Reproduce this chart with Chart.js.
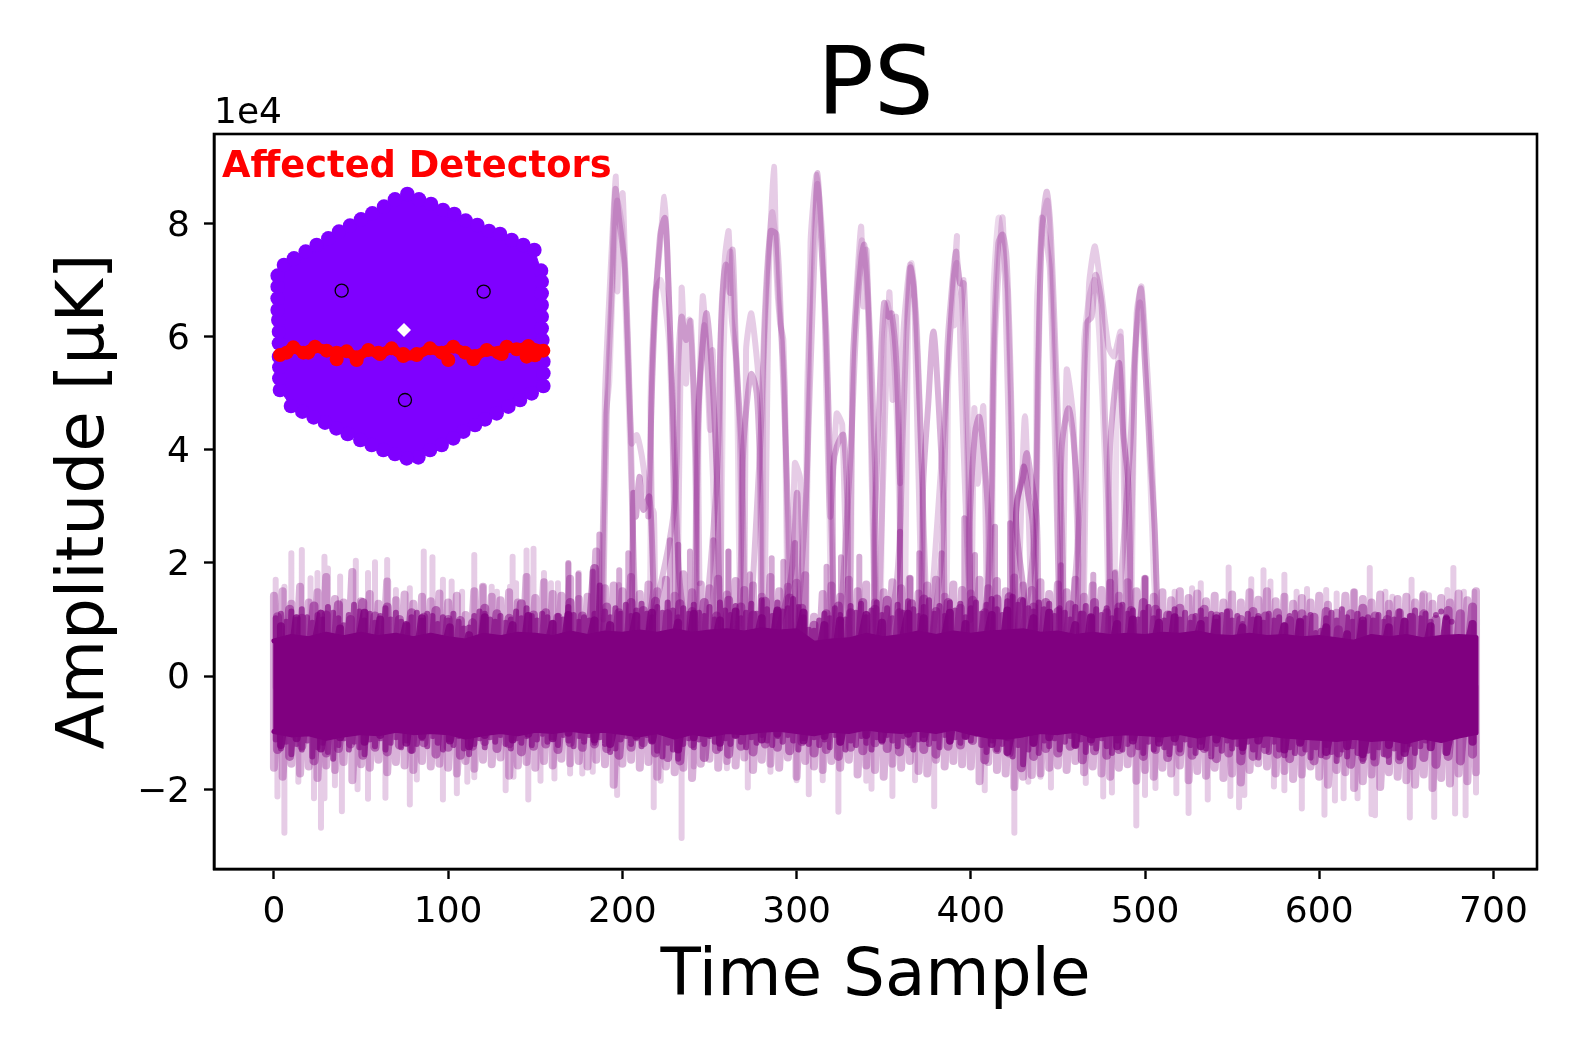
<!DOCTYPE html>
<html>
<head>
<meta charset="utf-8">
<title>PS</title>
<script src="https://cdn.jsdelivr.net/npm/chart.js@4/dist/chart.umd.min.js"></script>
<style>
html, body { margin: 0; padding: 0; background: #fff; }
#wrap { position: relative; width: 1578px; height: 1052px; }
#myChart { position: absolute; left: 0; top: 0; }
#inset { position: absolute; left: 215px; top: 130px; pointer-events: none; }
</style>
</head>
<body>
<div id="wrap">
<canvas id="myChart" width="1578" height="1052"></canvas>
<canvas id="inset" width="400" height="340"></canvas>
</div>
<script>
// tick labels (amplitude in units of 1e4)
const xTicks = [0, 100, 200, 300, 400, 500, 600, 700];
const yTicks = [-2, 0, 2, 4, 6, 8];

// faintest noise spikes, tops
const lightTopX = [1,6,10,16,21,25,29,31,38,47,54,58,65,70,78,86,91,97,102,108,115,120,125,128,135.5,137,139,145,149,155,159,163,169,175,183,198,261,483,500,517,527,532,548,561,568,572,580,587,593,604,610,620,629,638,642,653,659,663,673.5,677,683,689];
const lightTopY = [1.7,1.58,2.17,2.23,1.73,1.82,2.11,1.9,1.76,2.04,1.82,2.01,2.05,1.52,1.55,2.2,2.1,1.7,1.67,1.49,2.14,1.58,1.58,1.49,1.58,2.11,1.64,2.22,2.25,1.82,1.64,1.64,1.98,1.82,1.84,1.61,2.2,1.84,1.73,1.49,1.55,1.64,1.92,1.71,1.87,1.67,1.79,1.49,1.54,1.52,1.46,1.49,1.91,1.49,1.4,1.7,1.43,1.43,1.52,1.91,1.49,1.49];
// faintest noise spikes, bottoms
const lightLowX = [2,6,14,23,27,29,35,39,48,54,64,78,82,97,105,111,115,133,137.5,146,153,161,170,177,183,197,218,222,234,241,260,272,285,300,307,315,324,340,343,355,368,379,408,425,433,440,446,466,476,481,495,500,506,518,525,536,549,554,557,574,580,590,603,609,614,622,630,632,652,666,678,684,690];
const lightLowY = [-2.13,-2.77,-1.87,-2.16,-2.68,-2.16,-1.93,-2.39,-2,-2.17,-2.15,-2.27,-1.83,-2.18,-2.07,-1.87,-1.79,-2.02,-1.78,-2.18,-1.85,-1.81,-1.72,-1.72,-1.69,-2.1,-2.32,-1.85,-2.86,-1.6,-1.63,-1.97,-1.69,-1.84,-2.09,-1.84,-2.4,-1.85,-1.99,-2.12,-1.84,-2.3,-2.02,-2.77,-1.87,-1.78,-1.97,-1.89,-2.13,-2.06,-2.64,-2.1,-1.98,-2.07,-2.42,-2.18,-2.12,-2.32,-2.1,-1.95,-2.02,-2.34,-2.45,-2.2,-2.16,-2.16,-2.44,-2.46,-2.5,-2.49,-2.43,-2.46,-2.06];
// medium spikes that stick out under the transient peaks
const midSpikeX = [169,174.7,183,186.8,198.2,203.4,227.3,232.1,238.8,252.2,260.8,273.2,285.7,292.4,299.1,317.2,325.5,336,359.4,365.1,370.4,383.3,396.3,402.4,413.9,422.5,451.8,470.3,482.7,500];
const midSpikeY = [2,1.8,1.85,2.5,1.87,2.17,2.4,2.32,2.2,2.4,2.2,1.8,2.08,2.02,2.35,1.93,2.1,2.11,2.55,1.73,2.17,2.17,2.79,2.14,2.64,2.7,1.96,1.79,1.82,1.73];

// medium noise envelope
const midX = [0,5,10,15,20,25,30,35,40,45,50,55,60,65,70,75,80,85,90,95,100,105,110,115,120,125,130,135,140,145,150,155,160,165,170,175,180,185,190,195,200,205,210,215,220,225,230,235,240,245,250,255,260,265,270,275,280,285,290,295,300,305,310,315,320,325,330,335,340,345,350,355,360,365,370,375,380,385,390,395,400,405,410,415,420,425,430,435,440,445,450,455,460,465,470,475,480,485,490,495,500,505,510,515,520,525,530,535,540,545,550,555,560,565,570,575,580,585,590,595,600,605,610,615,620,625,630,635,640,645,650,655,660,665,670,675,680,685,690];
const midHigh = [1.42,1.5,1.28,1.58,1.3,1.48,1.75,1.36,1.3,1.84,1.32,1.45,1.28,1.67,1.34,1.44,1.28,1.4,1.32,1.46,1.3,1.42,1.08,1.5,1.58,1.4,1.34,1.48,1.3,1.75,1.38,1.66,1.45,1.42,1.72,1.36,1.4,2.2,1.55,1.6,1.5,1.75,1.45,1.62,1.5,1.7,1.42,1.8,1.48,1.62,1.55,1.72,1.44,1.68,1.52,1.6,1.4,1.75,1.5,1.58,1.65,1.78,1.05,1.45,1.6,1.4,1.7,1.5,1.62,1.3,1.48,1.66,1.55,1.72,1.46,1.6,1.7,1.4,1.62,1.52,1.46,1.7,1.55,1.68,1.5,1.74,1.6,1.52,1.66,1.45,1.62,1.48,1.7,1.4,1.6,1.52,1.65,1.42,1.66,1.5,1.72,1.4,1.48,1.34,1.5,1.38,1.46,1.32,1.42,1.3,1.44,1.3,1.48,1.35,1.5,1.32,1.4,1.28,1.38,1.3,1.42,1.26,1.12,1.42,1.48,1.36,1.3,1.44,1.28,1.36,1.4,1.3,1.44,1.28,1.38,1.3,1.46,1.34,1.5];
const midLow = [-1.62,-1.78,-1.55,-1.72,-1.6,-1.8,-1.58,-1.66,-1.52,-1.84,-1.56,-1.62,-1.48,-1.7,-1.52,-1.58,-1.66,-1.5,-1.6,-1.55,-1.62,-1.72,-1.5,-1.64,-1.48,-1.56,-1.44,-1.76,-1.58,-1.52,-1.62,-1.5,-1.58,-1.46,-1.54,-1.5,-1.6,-1.48,-1.56,-1.92,-1.55,-1.48,-1.62,-1.52,-1.78,-1.6,-1.7,-1.62,-1.8,-1.55,-1.46,-1.62,-1.5,-1.58,-1.44,-1.66,-1.48,-1.55,-1.62,-1.44,-1.78,-1.5,-1.6,-1.66,-1.5,-1.62,-1.48,-1.74,-1.58,-1.66,-1.78,-1.55,-1.62,-1.5,-1.68,-1.72,-1.48,-1.6,-1.5,-1.56,-1.6,-1.86,-1.52,-1.66,-1.72,-1.96,-1.78,-1.75,-1.72,-1.62,-1.58,-1.66,-1.5,-1.7,-1.6,-1.72,-1.78,-1.62,-1.56,-1.85,-1.66,-1.78,-1.62,-1.72,-1.58,-1.84,-1.68,-1.76,-1.62,-1.8,-1.72,-1.88,-1.66,-1.54,-1.6,-1.72,-1.68,-1.82,-1.74,-1.6,-1.78,-1.92,-1.66,-1.7,-1.98,-1.86,-1.74,-1.96,-1.7,-1.78,-1.84,-1.92,-1.74,-1.98,-1.8,-1.9,-1.72,-1.86,-1.7];

// darker noise envelope
const darkX = [2,9,16,23,30,37,44,51,58,65,72,79,86,93,100,107,114,121,128,135,142,149,156,163,170,177,184,191,198,205,212,219,226,233,240,247,254,261,268,275,282,289,296,303,310,317,324,331,338,345,352,359,366,373,380,387,394,401,408,415,422,429,436,443,450,457,464,471,478,485,492,499,506,513,520,527,534,541,548,555,562,569,576,583,590,597,604,611,618,625,632,639,646,653,660,667,674,681,688];
const darkHigh = [1.05,1.18,1.02,1.24,1.08,1.26,1.0,1.3,1.06,1.22,1.0,1.12,1.04,1.16,1.0,0.98,0.94,1.2,1.1,1.02,1.28,1.08,1.12,1.04,1.3,1.06,1.9,1.22,1.12,1.3,1.16,1.32,1.1,1.28,1.14,1.3,1.06,1.34,1.22,1.08,1.32,1.12,1.38,1.2,0.9,1.1,1.24,1.12,1.3,1.18,1.34,1.12,1.28,1.36,1.14,1.3,1.2,1.34,1.12,1.36,1.4,1.32,1.22,1.3,1.14,1.26,1.08,1.3,1.12,1.22,1.16,1.3,1.18,1.08,1.2,1.02,1.18,1.06,1.12,1.0,1.14,1.06,1.12,0.98,1.1,1.04,1.14,0.82,1.1,1.2,1.06,1.0,1.12,1.04,1.1,1.0,1.16,1.1,1.22];
const darkLow = [-1.3,-1.42,-1.24,-1.5,-1.36,-1.28,-1.2,-1.4,-1.26,-1.34,-1.22,-1.3,-1.18,-1.38,-1.26,-1.4,-1.24,-1.16,-1.28,-1.2,-1.34,-1.24,-1.2,-1.3,-1.18,-1.26,-1.2,-1.28,-1.4,-1.26,-1.18,-1.36,-1.44,-1.5,-1.2,-1.44,-1.3,-1.38,-1.24,-1.34,-1.2,-1.26,-1.32,-1.16,-1.36,-1.3,-1.42,-1.26,-1.32,-1.18,-1.28,-1.34,-1.2,-1.3,-1.38,-1.24,-1.22,-1.14,-1.48,-1.3,-1.36,-1.62,-1.42,-1.28,-1.36,-1.24,-1.48,-1.32,-1.4,-1.3,-1.36,-1.42,-1.3,-1.44,-1.34,-1.4,-1.28,-1.46,-1.36,-1.5,-1.42,-1.3,-1.38,-1.46,-1.34,-1.5,-1.4,-1.36,-1.56,-1.44,-1.52,-1.38,-1.48,-1.58,-1.44,-1.56,-1.42,-1.5,-1.38];

// near solid edge of the band
const denseX = [1,4,7,10,13,16,19,22,25,28,31,34,37,40,43,46,49,52,55,58,61,64,67,70,73,76,79,82,85,88,91,94,97,100,103,106,109,112,115,118,121,124,127,130,133,136,139,142,145,148,151,154,157,160,163,166,169,172,175,178,181,184,187,190,193,196,199,202,205,208,211,214,217,220,223,226,229,232,235,238,241,244,247,250,253,256,259,262,265,268,271,274,277,280,283,286,289,292,295,298,301,304,307,310,313,316,319,322,325,328,331,334,337,340,343,346,349,352,355,358,361,364,367,370,373,376,379,382,385,388,391,394,397,400,403,406,409,412,415,418,421,424,427,430,433,436,439,442,445,448,451,454,457,460,463,466,469,472,475,478,481,484,487,490,493,496,499,502,505,508,511,514,517,520,523,526,529,532,535,538,541,544,547,550,553,556,559,562,565,568,571,574,577,580,583,586,589,592,595,598,601,604,607,610,613,616,619,622,625,628,631,634,637,640,643,646,649,652,655,658,661,664,667,670,673,676,679,682,685,688];
const denseHigh = [1.02,1.1,0.96,1.14,1.0,1.18,1.04,0.94,1.08,1.0,1.22,1.12,1.02,0.9,1.08,1.26,1.14,0.98,1.1,0.94,1.06,1.2,
1.0,1.12,0.96,0.9,1.04,1.12,0.98,1.1,1.06,0.92,1.04,0.98,1.1,0.96,0.84,0.86,1.06,1.14,1.1,1.0,0.96,1.06,0.94,1.0,1.14,1.02,1.2,1.06,0.98,1.1,
1.04,0.94,1.06,1.0,1.22,1.08,0.96,1.04,0.98,1.1,1.6,1.14,1.04,1.2,1.1,1.26,1.06,1.16,1.28,1.1,1.04,1.22,1.12,1.3,1.16,1.04,1.2,1.1,1.26,1.12,
1.06,1.22,1.0,1.3,1.16,1.08,1.24,1.02,1.12,1.28,1.1,1.34,1.18,1.06,1.3,1.14,1.2,1.36,1.22,1.04,0.82,0.8,0.98,1.1,1.02,1.2,1.08,1.0,1.24,1.12,
1.28,1.04,1.16,1.3,1.08,1.2,1.02,1.26,1.12,1.32,1.18,1.06,1.22,1.34,1.1,1.24,1.06,1.3,1.16,1.28,1.04,1.2,1.3,1.1,1.26,1.36,1.18,1.08,1.32,
1.4,1.26,1.34,1.2,1.14,1.3,1.18,1.28,1.06,1.2,1.12,1.0,1.22,1.1,1.24,1.04,1.18,1.08,1.2,1.02,1.16,1.26,1.1,1.16,1.0,1.12,1.22,1.02,1.14,
0.98,1.1,1.18,1.0,1.12,0.94,1.06,1.16,1.0,1.1,0.96,1.08,1.14,0.98,1.06,0.92,1.1,1.0,1.06,0.94,1.1,0.98,1.04,0.9,1.06,1.12,0.96,1.02,1.08,
0.76,0.8,1.02,1.12,0.98,1.18,1.04,0.96,1.1,0.94,1.04,0.98,1.08,0.96,1.12,1.0,1.14,0.98,1.06,1.16,1.02,1.1,0.96,1.08,1.14,1.04,0.96];
const denseLow = [-1.12,-1.28,-1.16,-1.38,-1.2,-1.3,-1.14,-1.42,-1.26,-1.18,-1.34,-1.46,-1.22,-1.1,-1.3,-1.16,-1.26,-1.38,-1.12,-1.24,-1.1,-1.3,
-1.18,-1.08,-1.26,-1.14,-1.32,-1.2,-1.1,-1.24,-1.06,-1.18,-1.3,-1.12,-1.22,-1.06,-1.28,-1.38,-1.2,-1.1,-1.26,-1.08,-1.16,-1.04,-1.2,-1.28,-1.1,-1.18,-1.06,-1.22,-1.12,-1.02,
-1.16,-1.08,-1.22,-1.04,-1.14,-1.24,-1.06,-1.16,-1.04,-1.18,-1.08,-1.2,-1.34,-1.28,-1.12,-1.06,-1.2,-1.1,-1.24,-1.04,-1.14,-1.32,-1.42,-1.18,-1.3,-1.46,-1.2,-1.1,-1.26,-1.12,
-1.2,-1.06,-1.16,-1.28,-1.1,-1.2,-1.04,-1.16,-1.26,-1.08,-1.18,-1.04,-1.14,-1.22,-1.06,-1.16,-1.04,-1.14,-1.3,-1.1,-1.2,-1.08,-1.22,-1.12,-1.26,-1.04,-1.18,-1.3,-1.14,-1.22,
-1.06,-1.18,-1.3,-1.08,-1.16,-1.04,-1.14,-1.24,-1.06,-1.18,-1.3,-1.12,-1.04,-1.2,-1.1,-1.26,-1.04,-1.16,-1.08,-1.18,-1.06,-1.14,-1.02,-1.22,-1.34,-1.14,-1.3,-1.2,-1.1,
-1.42,-1.22,-1.56,-1.3,-1.2,-1.36,-1.14,-1.24,-1.1,-1.3,-1.16,-1.06,-1.22,-1.12,-1.34,-1.18,-1.28,-1.1,-1.24,-1.36,-1.14,-1.3,-1.2,-1.1,-1.26,-1.36,-1.16,-1.3,
-1.12,-1.26,-1.38,-1.18,-1.3,-1.12,-1.22,-1.36,-1.16,-1.28,-1.42,-1.2,-1.32,-1.14,-1.28,-1.2,-1.34,-1.16,-1.3,-1.44,-1.22,-1.34,-1.16,-1.3,-1.4,
-1.26,-1.36,-1.18,-1.3,-1.44,-1.26,-1.4,-1.22,-1.34,-1.5,-1.3,-1.42,-1.24,-1.36,-1.5,-1.32,-1.44,-1.26,-1.38,-1.52,-1.28,-1.44,-1.3,-1.2,-1.36,-1.24,-1.14];

// irregular lumps along the edge of the solid part
const lumpX = [4,13,27,38,52,61,76,85,101,112,121,137,146,160,169,184,193,208,217,232,241,256,265,280,289,304,316,325,340,349,364,373,388,397,412,421,436,445,460,469,484,493,508,517,532,541,556,565,580,589,604,616,625,640,649,664,673,688];
const lumpHigh = [0.88,1.02,1.1,0.84,1.12,1.0,0.9,1.02,0.86,0.72,1.04,0.9,1.06,0.92,1.08,0.98,0.9,1.06,1.12,0.94,1.1,0.98,1.14,1.02,1.16,1.12,0.9,0.98,1.08,0.94,1.1,1.02,1.12,0.92,1.08,1.16,1.02,1.12,0.9,1.04,0.92,1.0,0.94,1.04,0.92,1.02,0.86,1.0,0.88,0.96,0.86,0.74,0.98,0.86,0.96,0.88,1.0,0.92];
const lumpLow = [-1.22,-1.1,-1.28,-1.08,-1.16,-1.04,-1.18,-1.06,-1.14,-1.24,-1.04,-1.12,-1.02,-1.1,-1.0,-1.12,-1.2,-1.06,-1.14,-1.3,-1.08,-1.18,-1.04,-1.12,-1.02,-1.14,-1.06,-1.16,-1.04,-1.12,-1.02,-1.1,-1.14,-1.06,-1.2,-1.34,-1.18,-1.08,-1.22,-1.12,-1.24,-1.14,-1.18,-1.1,-1.24,-1.12,-1.26,-1.14,-1.3,-1.18,-1.34,-1.24,-1.38,-1.22,-1.36,-1.26,-1.34,-1.16];

// solid core of the noise band
const coreX = [0,10,20,30,40,50,60,70,80,90,100,110,120,130,140,150,160,170,180,190,200,210,220,230,240,250,260,270,280,290,300,310,320,330,340,350,360,370,380,390,400,410,420,430,440,450,460,470,480,490,500,510,520,530,540,550,560,570,580,590,600,610,620,630,640,650,660,670,680,690];
const coreHigh = [0.62,0.7,0.66,0.74,0.68,0.74,0.68,0.72,0.66,0.72,0.66,0.62,0.72,0.68,0.74,0.72,0.68,0.76,0.7,0.76,0.74,0.78,0.74,0.8,0.74,0.78,0.8,0.76,0.82,0.78,0.8,0.58,0.62,0.64,0.72,0.66,0.7,0.76,0.7,0.76,0.72,0.76,0.78,0.8,0.74,0.76,0.7,0.74,0.7,0.72,0.7,0.74,0.72,0.76,0.7,0.68,0.72,0.68,0.7,0.66,0.68,0.64,0.6,0.7,0.66,0.7,0.64,0.68,0.7,0.68];
const coreLow = [-0.98,-1.04,-1.02,-1.1,-1.04,-1.0,-1.02,-0.96,-1.0,-0.98,-1.0,-1.08,-1.02,-0.98,-1.02,-0.96,-0.98,-0.94,-0.98,-0.96,-1.0,-1.04,-0.98,-1.08,-1.0,-1.04,-0.98,-1.0,-0.96,-0.94,-0.98,-1.02,-0.96,-0.98,-0.92,-0.96,-0.98,-0.94,-0.98,-0.92,-1.0,-1.06,-1.08,-1.04,-0.98,-1.0,-0.96,-1.06,-1.02,-1.0,-1.02,-1.04,-1.0,-1.06,-1.0,-1.08,-1.06,-1.02,-1.06,-1.08,-1.1,-1.12,-1.08,-1.12,-1.1,-1.16,-1.08,-1.14,-1.06,-1.0];

// transient peaks, detector group A
const traceAx = [189,191,194,196,198,201.5,204.5,207,210,229.2,232.1,234,236.5,239.2,241.7,244.5,254.1,257,259.3,261.8,263.3,265.6,268.5,271.3,279,281.9,285.1,288.5,291.4,295.2,298.1,304.8,307.7,310.5,312.1,314.4,317.2,320.1,323,330.6,334.5,337.3,338.9,341.2,345,346.9,357.4,361.3,365.1,368,370.8,373.7,375.6,383.3,386.5,388.4,391.5,393.8,396.1,398.6,401.4,410,412.9,415.8,418.3,420.6,423.4,425.4,435.9,438.7,440.7,443.5,445.8,449.3,452.1,455,461.7,466.5,469.4,471.6,475.1,477,478.9,481.8,491.4,494.2,497.7,500,502.8,505.7,507.6];
const traceAy = [1,4.6,6.9,8.6,8.1,7.2,4.6,1.6,0.3,2.82,5.53,6.35,5.94,6.27,4,0.3,3.41,6.53,7.27,6.77,7.53,5.47,4,0.3,4,6.47,7.86,7.8,5.94,2.82,0.3,2.82,5.17,7.65,8.89,7.53,6,2.52,0.3,3.7,6.35,7.41,7.62,6.65,3.7,0.3,1.64,4.58,7.21,6.53,4.58,1.93,0.3,2.23,5.76,6.59,7.5,6.94,6.94,4,0.3,1.64,5.53,7.65,7.8,7.36,4.58,0.3,2.23,5.65,7.71,8.56,7.89,5.17,2.82,0.3,2.52,6.24,6.35,7.09,6.53,4.58,3.11,0.3,4,5.76,6.85,5.53,4,2.52,0.3];
// transient peaks, detector group B
const traceBx = [214.9,217.8,221.6,224.5,226.4,230.2,233,240.7,243.6,246.5,248.4,251.2,254.1,257.9,265.6,269.4,272.3,274.2,277.1,279,281.9,296.2,300.4,303.8,318.2,321.1,323,326.8,329.1,331.6,342.1,345,347.9,350.2,352.7,354.6,357.4,359.4,360.9,369.9,372.7,375.6,378.5,381.4,384.2,387.1,397.6,399.5,402.4,404.9,407.2,410,412,423.4,426.3,430.1,432,434.3,437.8,440.7,449.3,452.1,456,458.8,461.7,463.6,477,479.9,482.7,485.2,487.5,490.4,492.3];
const traceBy = [2.82,5.76,7.77,8.09,6.94,3.7,1.64,0.3,4.59,6,6.41,5.47,3.7,0.3,0.3,4,5.06,5.34,5,3.7,0.3,1.64,3.23,0.3,0.3,3.7,4.05,4.26,3.11,0.3,0.3,2.82,5.17,6.59,6.35,6.41,5.47,3.41,0.3,0.3,3.41,4.82,6.09,4.88,3.11,0.3,0.3,2.82,4.29,4.58,4,2.82,0.3,0.3,3.05,3.52,3.94,3.58,2.82,0.3,0.3,4,4.73,4.23,2.82,0.3,0.3,4,5.06,5.53,4.29,3.41,0.3];
// fainter traces with the taller tips
const traceCx = [188.1,190,193,196.3,197.1,198.6,200.2,202.5,205.3,208.2,211.1,214.9,218.1,218.7,216.2,218.7,221.6,224.1,225.8,228.3,231.2,234,236.5,238.4,241.7,244.2,243.6,246.1,248.4,250.3,251.8,254.1,257,256,258.9,261,262.7,265.6,267.5,270,271,274,278.2,280,281.3,284,287,288.5,290.5,292.4,294.3,296.2,299,302,304.8,308,311.5,315.3,316.3,319.2,323,326.2,330,332.5,337,338.3,340.2,342,346,353.2,355.1,357,359.4,361.3,365.1,367.4,372,375,392,390.5,396,393.8,400,402,404,407.2,410,414,418.3,424,426,431.1,436,440.7,445.4,452,455,458.8,464,467.8,471.3,479,482.2,486,490,495.2,498,503.8,508];
const traceCy = [0.3,4.94,7,8.83,6.8,8.24,8.53,6.35,4.11,4.26,3.9,3.11,2.88,0.3,4.76,6.65,7.59,8.47,7.53,5.17,0.3,6.85,5.17,6.3,4.59,1.64,4,6.71,5.76,4.35,5.76,3.41,0.3,5.47,7.41,7.86,6.35,5.53,4.11,0.3,5.76,6.41,5.26,4,0.3,7,9,7.12,6.24,5.94,3.41,0.3,3.76,3.5,0.3,7.65,8.86,7.53,6.18,2.82,4.64,4.44,0.3,5.65,7.94,6.53,7.53,5.17,0.3,6.77,4.88,6.35,3.41,6.06,7.27,6.88,1,0.3,7.76,6.2,7,6.09,1,4.73,3.4,4.76,0.3,6,8.09,1.5,0.3,4.59,0.3,8.09,7.18,0.3,5.41,4.56,0.3,6.88,7.59,5.82,5.65,6.08,0.3,6.41,6.88,4,0.3];
// further faint traces, the shoulders beside the peaks
const traceEx = [187,190.5,192.5,195,197,200,203,206,208,215,216.5,219,222,224,227,230,232,240,243,245,247,250,252,255,256,258,260,262,264,266,269,279,281,284,286,288,290,293,296,304,306,309,312,315,318,321,330,332,335,337.5,339.5,342,346,348,350,352,355,358,361,362,364,366,369,372,375,385,387,390,392,395,398,401,411,413,416,419,421,424,426,436,438,441,444,446,449,452,463,465,468,471,474,477,480,482,484,486,488,491,492,494,497,499,502,505,508];
const traceEy = [0.3,4.6,5.2,7.4,8.4,7.9,5.4,2.6,0.3,0.3,4.5,6.8,7,6.7,5.8,3,0.3,0.3,4.5,5.5,6.2,4.9,3.5,0.3,0.3,5.6,7.1,7.5,6.5,4.7,0.3,0.3,5.4,7.5,8.2,7.7,6.6,5.2,0.3,0.3,5,7.4,8.7,7.2,5,0.3,0.3,5.4,6.9,7.7,7.2,5.8,0.3,0.3,5.9,6.6,6,4.2,0.3,0.3,6.4,7.3,6.2,3.6,0.3,0.3,5.2,7,7.3,6.6,3.8,0.3,0.3,6.8,8.1,7.4,6.8,3.4,0.3,0.3,6.6,8,8.4,7.3,4.8,0.3,0.3,5.9,6.7,7,5.9,3.8,0.3,0.3,5.3,6,4.6,0.3,0.3,5.4,6.6,6,4.4,1.8,0.3];
// low cluster of peaks near samples 210 and 430
const traceDx = [205.3,206.3,207.8,209.7,212,215.5,217.8,219.7,423,426,428.5,430.5,433,435.5,438];
const traceDy = [0.3,3.23,2.82,3.52,2.94,3.17,1.64,0.3,0.3,2.9,3.4,3.7,3.2,2.7,0.3];

// inset detector map, outline in map units, clockwise from the top corner
const rimX = [577,612,648,684,718,752,787,822,855,890,925,958,978,980,980,980,980,980,982,982,985,985,985,950,915,880,845,810,780,745,715,680,645,610,575,540,505,470,436,398,364,330,296,262,228,195,193,193,192,192,192,190,188,188,188,188,207,237,272,305,340,372,405,438,472,507,540];
const rimY = [192,208,222,240,252,272,285,303,312,330,345,360,422,455,490,525,560,595,630,662,695,730,768,790,810,830,850,868,885,905,925,945,960,982,985,972,960,945,930,912,895,878,862,845,828,780,745,712,680,640,605,570,540,505,470,437,405,385,365,345,325,305,287,268,250,230,208];
// affected detector row, upper and lower edge of the wobble
const rowX = [195,235,265,300,335,365,395,425,460,495,530,565,605,645,680,715,750,780,815,850,875,905,940,985];
const rowY = [675,652,668,650,662,668,664,682,660,672,655,678,675,655,668,650,668,678,660,668,650,658,648,662];
const rowLowX = [215,280,365,425,490,565,605,700,775,860,935,960];
const rowLowY = [668,668,688,690,668,672,672,690,688,672,680,676];
// marked detectors and the gap in the middle
const markX = [380,806,570];
const markY = [482,485,810];
const gapX = [567];
const gapY = [600];

const purple = a => 'rgba(128, 0, 128, ' + a + ')';

function zigzag(xs, high, low) {
    return xs.flatMap((x, i) => [{x: x, y: high[i]}, {x: x, y: low[i]}]);
}
function spikes(xs, ys) {
    return xs.flatMap((x, i) => [{x: x, y: -0.2}, {x: x, y: ys[i]}, {x: x, y: -0.2}]);
}
function trace(xs, ys) {
    return xs.map((x, i) => ({x: x, y: ys[i]}));
}
function lineSet(data, color, order, width, tension) {
    return {
        data: data,
        showLine: true,
        borderColor: color,
        borderWidth: width,
        borderCapStyle: 'round',
        borderJoinStyle: 'round',
        pointRadius: 0,
        tension: tension || 0,
        order: order
    };
}

const coreData = trace(coreX, coreHigh).concat(trace(coreX, coreLow).reverse());

const textPlugin = {
    id: 'extraText',
    afterDraw(chart) {
        const ctx = chart.ctx;
        const a = chart.chartArea;
        ctx.save();
        ctx.strokeStyle = '#000';
        ctx.lineWidth = 2.6;
        ctx.strokeRect(a.left, a.top, a.right - a.left, a.bottom - a.top);
        ctx.textBaseline = 'alphabetic';
        ctx.fillStyle = '#000';
        ctx.font = '36px "DejaVu Sans"';
        ctx.fillText('1e4', 214, 123);
        ctx.fillStyle = '#ff0000';
        ctx.font = 'bold 36.8px "DejaVu Sans"';
        ctx.fillText('Affected Detectors', 222, 177);
        ctx.restore();
    }
};

new Chart('myChart', {
    type: 'scatter',
    plugins: [textPlugin],
    data: {
        datasets: [
            Object.assign(lineSet(coreData, '#800080', 1, 5), {fill: 'shape', backgroundColor: '#800080'}),
            lineSet(zigzag(lumpX, lumpHigh, lumpLow), purple(0.8), 2, 8),
            lineSet(zigzag(denseX, denseHigh, denseLow), purple(0.6), 3, 6),
            lineSet(zigzag(darkX, darkHigh, darkLow), purple(0.45), 4, 9),
            lineSet(zigzag(midX, midHigh, midLow), purple(0.3), 5, 8),
            lineSet(spikes(midSpikeX, midSpikeY), purple(0.33), 6, 6),
            lineSet(spikes(lightTopX, lightTopY), purple(0.2), 7, 6),
            lineSet(spikes(lightLowX, lightLowY), purple(0.2), 8, 6),
            lineSet(trace(traceAx, traceAy), purple(0.25), 9, 6, 0.3),
            lineSet(trace(traceBx, traceBy), purple(0.3), 10, 6, 0.3),
            lineSet(trace(traceDx, traceDy), purple(0.34), 11, 6, 0.3),
            lineSet(trace(traceCx, traceCy), purple(0.2), 12, 6, 0.2),
            lineSet(trace(traceEx, traceEy), purple(0.15), 13, 6, 0.2)
        ]
    },
    options: {
        responsive: false,
        animation: false,
        layout: {autoPadding: false, padding: {left: 0, right: 41, top: 0, bottom: 0}},
        plugins: {
            legend: {display: false},
            tooltip: {enabled: false},
            title: {
                display: true,
                fullSize: false,
                text: 'PS',
                color: '#000',
                font: {family: 'DejaVu Sans', size: 94, weight: 'normal', lineHeight: 0.9},
                padding: {top: 47.7, bottom: 1.7}
            }
        },
        scales: {
            x: {
                type: 'linear',
                min: -34.4,
                max: 725,
                afterFit(s) { s.height = 183; },
                afterBuildTicks(s) { s.ticks = xTicks.map(v => ({value: v})); },
                grid: {drawOnChartArea: false, tickLength: 10, tickWidth: 2.4, tickColor: '#000'},
                border: {color: '#000', width: 2.6},
                ticks: {color: '#000', padding: 12, maxRotation: 0, font: {family: 'DejaVu Sans', size: 36}},
                title: {
                    display: true,
                    text: 'Time Sample',
                    color: '#000',
                    font: {family: 'DejaVu Sans', size: 66},
                    padding: {top: 0, bottom: 35}
                }
            },
            y: {
                type: 'linear',
                min: -3.41,
                max: 9.58,
                afterFit(s) { s.width = 214; },
                afterBuildTicks(s) { s.ticks = yTicks.map(v => ({value: v})); },
                grid: {drawOnChartArea: false, tickLength: 10, tickWidth: 2.4, tickColor: '#000'},
                border: {color: '#000', width: 2.6},
                ticks: {
                    color: '#000',
                    padding: 14,
                    // the empty first line nudges the label down to where the reference has it
                    font: {family: 'DejaVu Sans', size: 36, lineHeight: '6px'},
                    callback: v => ['', String(v).replace('-', '\u2212')]
                },
                title: {
                    display: true,
                    text: 'Amplitude [\u03bcK]',
                    color: '#000',
                    font: {family: 'DejaVu Sans', size: 66},
                    padding: {top: 46, bottom: 0}
                }
            }
        }
    }
});

const mapPurple = '#7f00ff';
new Chart('inset', {
    type: 'scatter',
    data: {
        datasets: [
            {
                data: trace(markX, markY),
                pointRadius: 6.5,
                pointBorderWidth: 1.3,
                pointBorderColor: '#000',
                pointBackgroundColor: 'rgba(0, 0, 0, 0)',
                order: 1
            },
            {
                data: trace(rowX, rowY),
                showLine: true,
                borderColor: '#ff0000',
                borderWidth: 10,
                pointRadius: 7,
                pointBackgroundColor: '#ff0000',
                pointBorderWidth: 0,
                order: 2
            },
            {
                data: trace(rowLowX, rowLowY),
                pointRadius: 7,
                pointBackgroundColor: '#ff0000',
                pointBorderWidth: 0,
                order: 2
            },
            {
                data: trace(gapX, gapY),
                pointStyle: 'rectRot',
                pointRadius: 7,
                pointBackgroundColor: '#fff',
                pointBorderWidth: 0,
                order: 3
            },
            {
                data: trace(rimX, rimY),
                showLine: true,
                fill: 'shape',
                borderColor: mapPurple,
                backgroundColor: mapPurple,
                borderWidth: 1,
                pointRadius: 7.3,
                pointBackgroundColor: mapPurple,
                pointBorderWidth: 0,
                order: 4
            }
        ]
    },
    options: {
        responsive: false,
        animation: false,
        layout: {autoPadding: false, padding: 0},
        plugins: {legend: {display: false}, tooltip: {enabled: false}},
        scales: {
            x: {type: 'linear', display: false, min: 0, max: 1200},
            y: {type: 'linear', display: false, min: 0, max: 1020, reverse: true}
        }
    }
});
</script>
</body>
</html>
